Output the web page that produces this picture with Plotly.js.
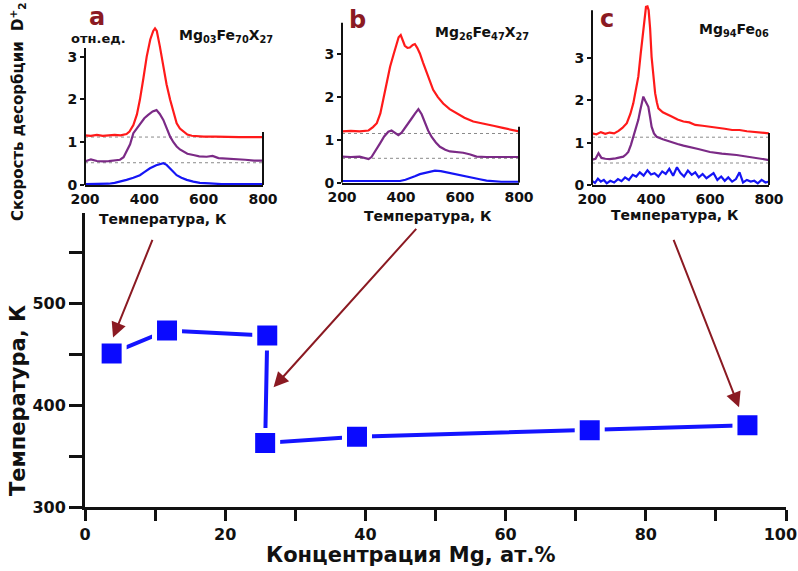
<!DOCTYPE html>
<html>
<head>
<meta charset="utf-8">
<script src="https://cdn.plot.ly/plotly-3.0.1.min.js"></script>
<style>html,body{margin:0;padding:0;background:#fff;}#chart{width:798px;height:571px;}</style>
</head>
<body>
<div id="chart"></div>
<script>
// ---- main chart data ----
const mgConc   = [3.8, 11.7, 26.0, 25.7, 38.8, 72.0, 94.5];
const peakTemp = [451, 473.5, 468.6, 363, 369, 375.5, 380.4];
const concTicks = [0, 20, 40, 60, 80, 100];
const concTickText = ['0', '20', '40', '60', '80', '100\u2007'];
const concMinor = [10, 30, 50, 70, 90];

// ---- inset a: Mg03Fe70X27 ----
const aRedT = [200,220,240,260,280,300,320,340,350,363,375,385,397,408,420,430,436,442,452,464,475,487,498,509,520,531,545,560,580,600,640,680,720,760,800];
const aRedV = [1.16,1.15,1.17,1.15,1.16,1.17,1.16,1.19,1.25,1.40,1.65,1.99,2.50,3.00,3.40,3.60,3.66,3.60,3.25,2.76,2.35,1.99,1.68,1.44,1.32,1.25,1.18,1.15,1.14,1.13,1.13,1.12,1.12,1.12,1.12];
const aPurT = [200,220,240,260,280,300,318,330,340,352,363,375,385,400,413,428,441,452,464,475,487,498,509,520,531,545,565,585,610,630,650,680,700,740,770,800];
const aPurV = [0.55,0.60,0.56,0.55,0.56,0.57,0.59,0.65,0.78,0.95,1.21,1.32,1.44,1.56,1.64,1.72,1.75,1.66,1.52,1.32,1.13,1.00,0.90,0.83,0.78,0.73,0.70,0.67,0.66,0.68,0.63,0.62,0.60,0.59,0.57,0.57];
const aBluT = [200,240,280,300,320,340,363,385,400,419,440,455,464,475,487,498,509,525,543,565,587,620,660,700,750,800];
const aBluV = [0.02,0.02,0.03,0.05,0.08,0.12,0.17,0.23,0.30,0.39,0.46,0.50,0.51,0.47,0.39,0.30,0.23,0.17,0.12,0.08,0.05,0.04,0.02,0.02,0.02,0.02];

// ---- inset b: Mg26Fe47X27 ----
const bRedT = [200,230,260,290,305,318,330,340,352,363,375,385,392,399,406,413,422,430,440,447,455,464,475,487,498,509,525,543,565,589,615,645,680,713,745,780,800];
const bRedV = [1.20,1.21,1.20,1.22,1.30,1.39,1.62,1.93,2.35,2.71,3.00,3.26,3.40,3.45,3.30,3.20,3.15,3.16,3.22,3.24,3.15,3.02,2.80,2.56,2.36,2.17,2.00,1.85,1.72,1.62,1.52,1.43,1.37,1.33,1.28,1.23,1.20];
const bPurT = [200,230,260,280,290,300,315,329,343,357,368,380,391,402,413,425,436,448,459,470,481,492,504,518,532,550,566,590,611,635,656,690,720,760,800];
const bPurV = [0.61,0.60,0.61,0.58,0.55,0.60,0.75,0.92,1.08,1.19,1.22,1.16,1.11,1.17,1.27,1.38,1.50,1.62,1.72,1.60,1.39,1.22,1.07,0.94,0.84,0.77,0.73,0.71,0.70,0.66,0.61,0.60,0.60,0.60,0.60];
const bBluT = [200,250,300,350,397,415,430,447,464,481,498,515,535,554,580,611,640,667,690,713,740,770,800];
const bBluV = [0.04,0.04,0.03,0.04,0.04,0.07,0.10,0.15,0.20,0.23,0.26,0.28,0.27,0.24,0.20,0.16,0.12,0.08,0.05,0.03,0.02,0.02,0.02];

// ---- inset c: Mg94Fe06 ----
const cRedT = [200,215,230,245,260,275,290,303,318,330,340,350,357,365,374,379,383,388,392,397,402,408,414,420,425,440,455,470,490,510,530,550,575,600,625,650,675,700,725,750,775,800];
const cRedV = [1.22,1.20,1.25,1.21,1.24,1.22,1.28,1.35,1.46,1.68,1.93,2.30,2.56,3.10,3.66,4.05,4.21,4.22,4.13,3.70,3.03,2.60,2.17,1.95,1.81,1.72,1.66,1.62,1.55,1.50,1.48,1.42,1.40,1.38,1.36,1.33,1.30,1.30,1.27,1.25,1.23,1.22];
const cPurT = [200,212,222,232,245,260,280,295,306,315,323,332,340,350,357,363,368,374,380,386,391,397,402,410,419,440,464,490,510,532,560,600,640,690,740,770,800];
const cPurV = [0.60,0.62,0.75,0.64,0.62,0.61,0.63,0.65,0.67,0.72,0.78,0.95,1.14,1.36,1.54,1.75,1.93,2.09,2.00,1.92,1.85,1.60,1.38,1.22,1.14,1.08,1.02,0.97,0.93,0.90,0.85,0.78,0.74,0.71,0.66,0.63,0.59];
const cBluT = [200,210,220,230,240,250,262,275,288,300,312,325,338,350,362,375,388,400,412,425,438,450,462,475,488,500,512,525,538,550,562,575,588,600,612,625,638,650,662,675,688,700,712,725,738,750,762,775,788,800];
const cBluV = [0.10,0.05,0.15,0.08,0.12,0.04,0.10,0.06,0.14,0.09,0.18,0.12,0.24,0.20,0.30,0.22,0.35,0.25,0.28,0.20,0.32,0.26,0.38,0.22,0.42,0.28,0.20,0.34,0.24,0.30,0.18,0.26,0.16,0.22,0.28,0.12,0.20,0.10,0.18,0.08,0.14,0.30,0.06,0.12,0.08,0.10,0.04,0.12,0.06,0.08];

// baseline offsets of the curves (right-axis labels 1,2,3)
const aBase = [0, 0.52, 1.12];
const bBase = [0, 0.57, 1.15];
const cBase = [0, 0.52, 1.13];
const curveLabels = ['1', '2', '3'];
const tempTicks = [200, 400, 600, 800];
const rateTicks = [0, 1, 2, 3];

// ---- geometry helpers ----
const W = 798, H = 571;
const px = v => v / W;
const py = v => 1 - v / H;
const FONT = 'DejaVu Sans, Liberation Sans, Arial, sans-serif';
const RED = '#ff1a1a', PUR = '#7b2a86', BLU = '#1515f5', DARKRED = '#8b1a22';

function curve(x, y, color, xa, ya) {
  return {x: x, y: y, type: 'scatter', mode: 'lines', xaxis: xa, yaxis: ya,
          line: {color: color, width: 2.2}, hoverinfo: 'skip', showlegend: false};
}

const traces = [
  curve(aBluT, aBluV, BLU, 'x2', 'y2'), curve(aPurT, aPurV, PUR, 'x2', 'y2'), curve(aRedT, aRedV, RED, 'x2', 'y2'),
  curve(bBluT, bBluV, BLU, 'x3', 'y3'), curve(bPurT, bPurV, PUR, 'x3', 'y3'), curve(bRedT, bRedV, RED, 'x3', 'y3'),
  curve(cBluT, cBluV, BLU, 'x4', 'y4'), curve(cPurT, cPurV, PUR, 'x4', 'y4'), curve(cRedT, cRedV, RED, 'x4', 'y4'),
  {x: mgConc, y: peakTemp, type: 'scatter', mode: 'lines+markers', xaxis: 'x', yaxis: 'y',
   line: {color: '#1414ff', width: 4},
   marker: {symbol: 'square', size: 25, color: '#0a0aff', line: {color: '#ffffff', width: 5}},
   showlegend: false, hoverinfo: 'skip'}
];

const tickFont = s => ({family: FONT, size: s, color: '#111', weight: 'bold'});

function insetX(l, r, anchor) {
  return {domain: [px(l), px(r)], range: [200, 800], anchor: anchor, showline: true, linewidth: 2,
          linecolor: '#111', ticks: '', tickvals: tempTicks, tickfont: tickFont(14),
          showgrid: false, zeroline: false, fixedrange: true, ticklabeloverflow: 'allow'};
}
function insetY(bottom, top, maxv, anchor) {
  return {domain: [py(bottom), py(top)], range: [0, maxv], anchor: anchor, showline: false,
          ticks: 'outside', ticklen: 4, tickwidth: 2, tickcolor: '#111', tickvals: rateTicks,
          tickfont: tickFont(14), showgrid: false, zeroline: false, fixedrange: true};
}
function insetYR(over, anchor, maxv, base) {
  return {overlaying: over, anchor: anchor, side: 'right', range: [0, maxv], showline: false,
          ticks: 'outside', ticklen: 4, tickwidth: 2, tickcolor: '#111', tickvals: base, ticktext: curveLabels,
          tickfont: tickFont(14), showgrid: false, zeroline: false, fixedrange: true};
}

const layout = {
  width: W, height: H, margin: {l: 0, r: 0, t: 0, b: 0},
  paper_bgcolor: '#fff', plot_bgcolor: 'rgba(0,0,0,0)', showlegend: false,
  font: {family: FONT, color: '#111'},
  xaxis: {domain: [px(85), px(786)], range: [0, 100], anchor: 'y', showline: true, linewidth: 3, linecolor: '#111',
          ticks: 'outside', ticklen: 11, tickwidth: 3, tickcolor: '#111',
          tickmode: 'array', tickvals: concTicks, ticktext: concTickText,
          minor: {tickmode: 'array', tickvals: concMinor, ticks: 'outside', ticklen: 11, tickwidth: 3, tickcolor: '#111'},
          tickfont: tickFont(16), showgrid: false, zeroline: false, fixedrange: true, ticklabeloverflow: 'allow'},
  yaxis: {domain: [py(507), py(213)], range: [300, 589], anchor: 'x', showline: true, linewidth: 3, linecolor: '#111',
          ticks: 'outside', ticklen: 13, tickwidth: 3, tickcolor: '#111', dtick: 100,
          minor: {dtick: 50, ticks: 'outside', ticklen: 13, tickwidth: 3, tickcolor: '#111'},
          tickfont: tickFont(16), showgrid: false, zeroline: false, fixedrange: true},
  yaxis5: {overlaying: 'y', anchor: 'x', side: 'right', range: [300, 589], showline: true, linewidth: 3, linecolor: '#111',
           ticks: 'outside', ticklen: 9, tickwidth: 3, tickcolor: '#111', dtick: 50, showticklabels: false,
           showgrid: false, zeroline: false, fixedrange: true},
  xaxis2: insetX(85, 263, 'y2'), yaxis2: insetY(185, 13.8, 4.0, 'x2'), yaxis6: insetYR('y2', 'x2', 4.0, aBase),
  xaxis3: insetX(342, 519, 'y3'), yaxis3: insetY(182.7, 15.8, 3.9, 'x3'), yaxis7: insetYR('y3', 'x3', 3.9, bBase),
  xaxis4: insetX(592, 769, 'y4'), yaxis4: insetY(185, 3.1, 4.3, 'x4'), yaxis8: insetYR('y4', 'x4', 4.3, cBase),
  shapes: [],
  annotations: []
};

// inset axis lines & dotted baselines
[['x2', 'y2', 3.2, 1.24, aBase], ['x3', 'y3', 3.74, 1.31, bBase], ['x4', 'y4', 4.13, 1.23, cBase]].forEach(s => {
  const [xa, ya, topL, topR, base] = s;
  layout.shapes.push({type: 'line', xref: xa + ' domain', yref: ya, x0: 0, x1: 0, y0: 0, y1: topL, line: {color: '#111', width: 2}});
  layout.shapes.push({type: 'line', xref: xa + ' domain', yref: ya, x0: 1, x1: 1, y0: 0, y1: topR, line: {color: '#111', width: 2}});
  [base[1], base[2]].forEach(b => layout.shapes.push({type: 'line', layer: 'below', xref: xa, yref: ya, x0: 200, x1: 800, y0: b, y1: b,
      line: {color: '#8a8a8a', width: 1, dash: 'dot'}}));
});

function txt(t, x, y, size, opts) {
  return Object.assign({text: t, xref: 'paper', yref: 'paper', x: px(x), y: py(y), showarrow: false,
    xanchor: 'center', yanchor: 'middle', font: {family: FONT, size: size, color: '#111', weight: 'bold'}}, opts || {});
}
const A = layout.annotations;
const letterFont = {family: FONT, size: 24, color: DARKRED, weight: 'bold'};
A.push(txt('<b>a</b>', 97, 17, 24, {font: letterFont}));
A.push(txt('<b>b</b>', 357, 20, 24, {font: letterFont}));
A.push(txt('<b>c</b>', 607, 19, 24, {font: letterFont}));
A.push(txt('<b>Mg<sub>03</sub>Fe<sub>70</sub>X<sub>27</sub></b>', 226, 36, 14));
A.push(txt('<b>Mg<sub>26</sub>Fe<sub>47</sub>X<sub>27</sub></b>', 482, 33, 14));
A.push(txt('<b>Mg<sub>94</sub>Fe<sub>06</sub></b>', 734, 30, 14));
A.push(txt('<b>отн.ед.</b>', 98, 39, 13));
A.push(txt('<b>Скорость десорбции  D<sup>+</sup><sub>2</sub></b>', 17, 112, 15, {textangle: -90}));
A.push(txt('<b>Температура, К</b>', 163, 219, 14));
A.push(txt('<b>Температура, К</b>', 428, 216, 14));
A.push(txt('<b>Температура, К</b>', 675, 215, 14));
A.push(txt('<b>Температура, К</b>', 18, 401, 21, {textangle: -90}));
A.push(txt('<b>Концентрация Mg, ат.%</b>', 410, 555, 21));

// arrows from insets to points
[[4.0, 466.7, 40, -99], [26.9, 417.6, 144, -160], [93.3, 398, -66, -169]].forEach(a => {
  A.push({xref: 'x', yref: 'y', x: a[0], y: a[1], ax: a[2], ay: a[3], axref: 'pixel', ayref: 'pixel', text: '',
          showarrow: true, arrowhead: 2, arrowsize: 1.5, arrowwidth: 2, arrowcolor: DARKRED, standoff: 0});
});

Plotly.newPlot('chart', traces, layout, {displayModeBar: false, staticPlot: true});
</script>
</body>
</html>
